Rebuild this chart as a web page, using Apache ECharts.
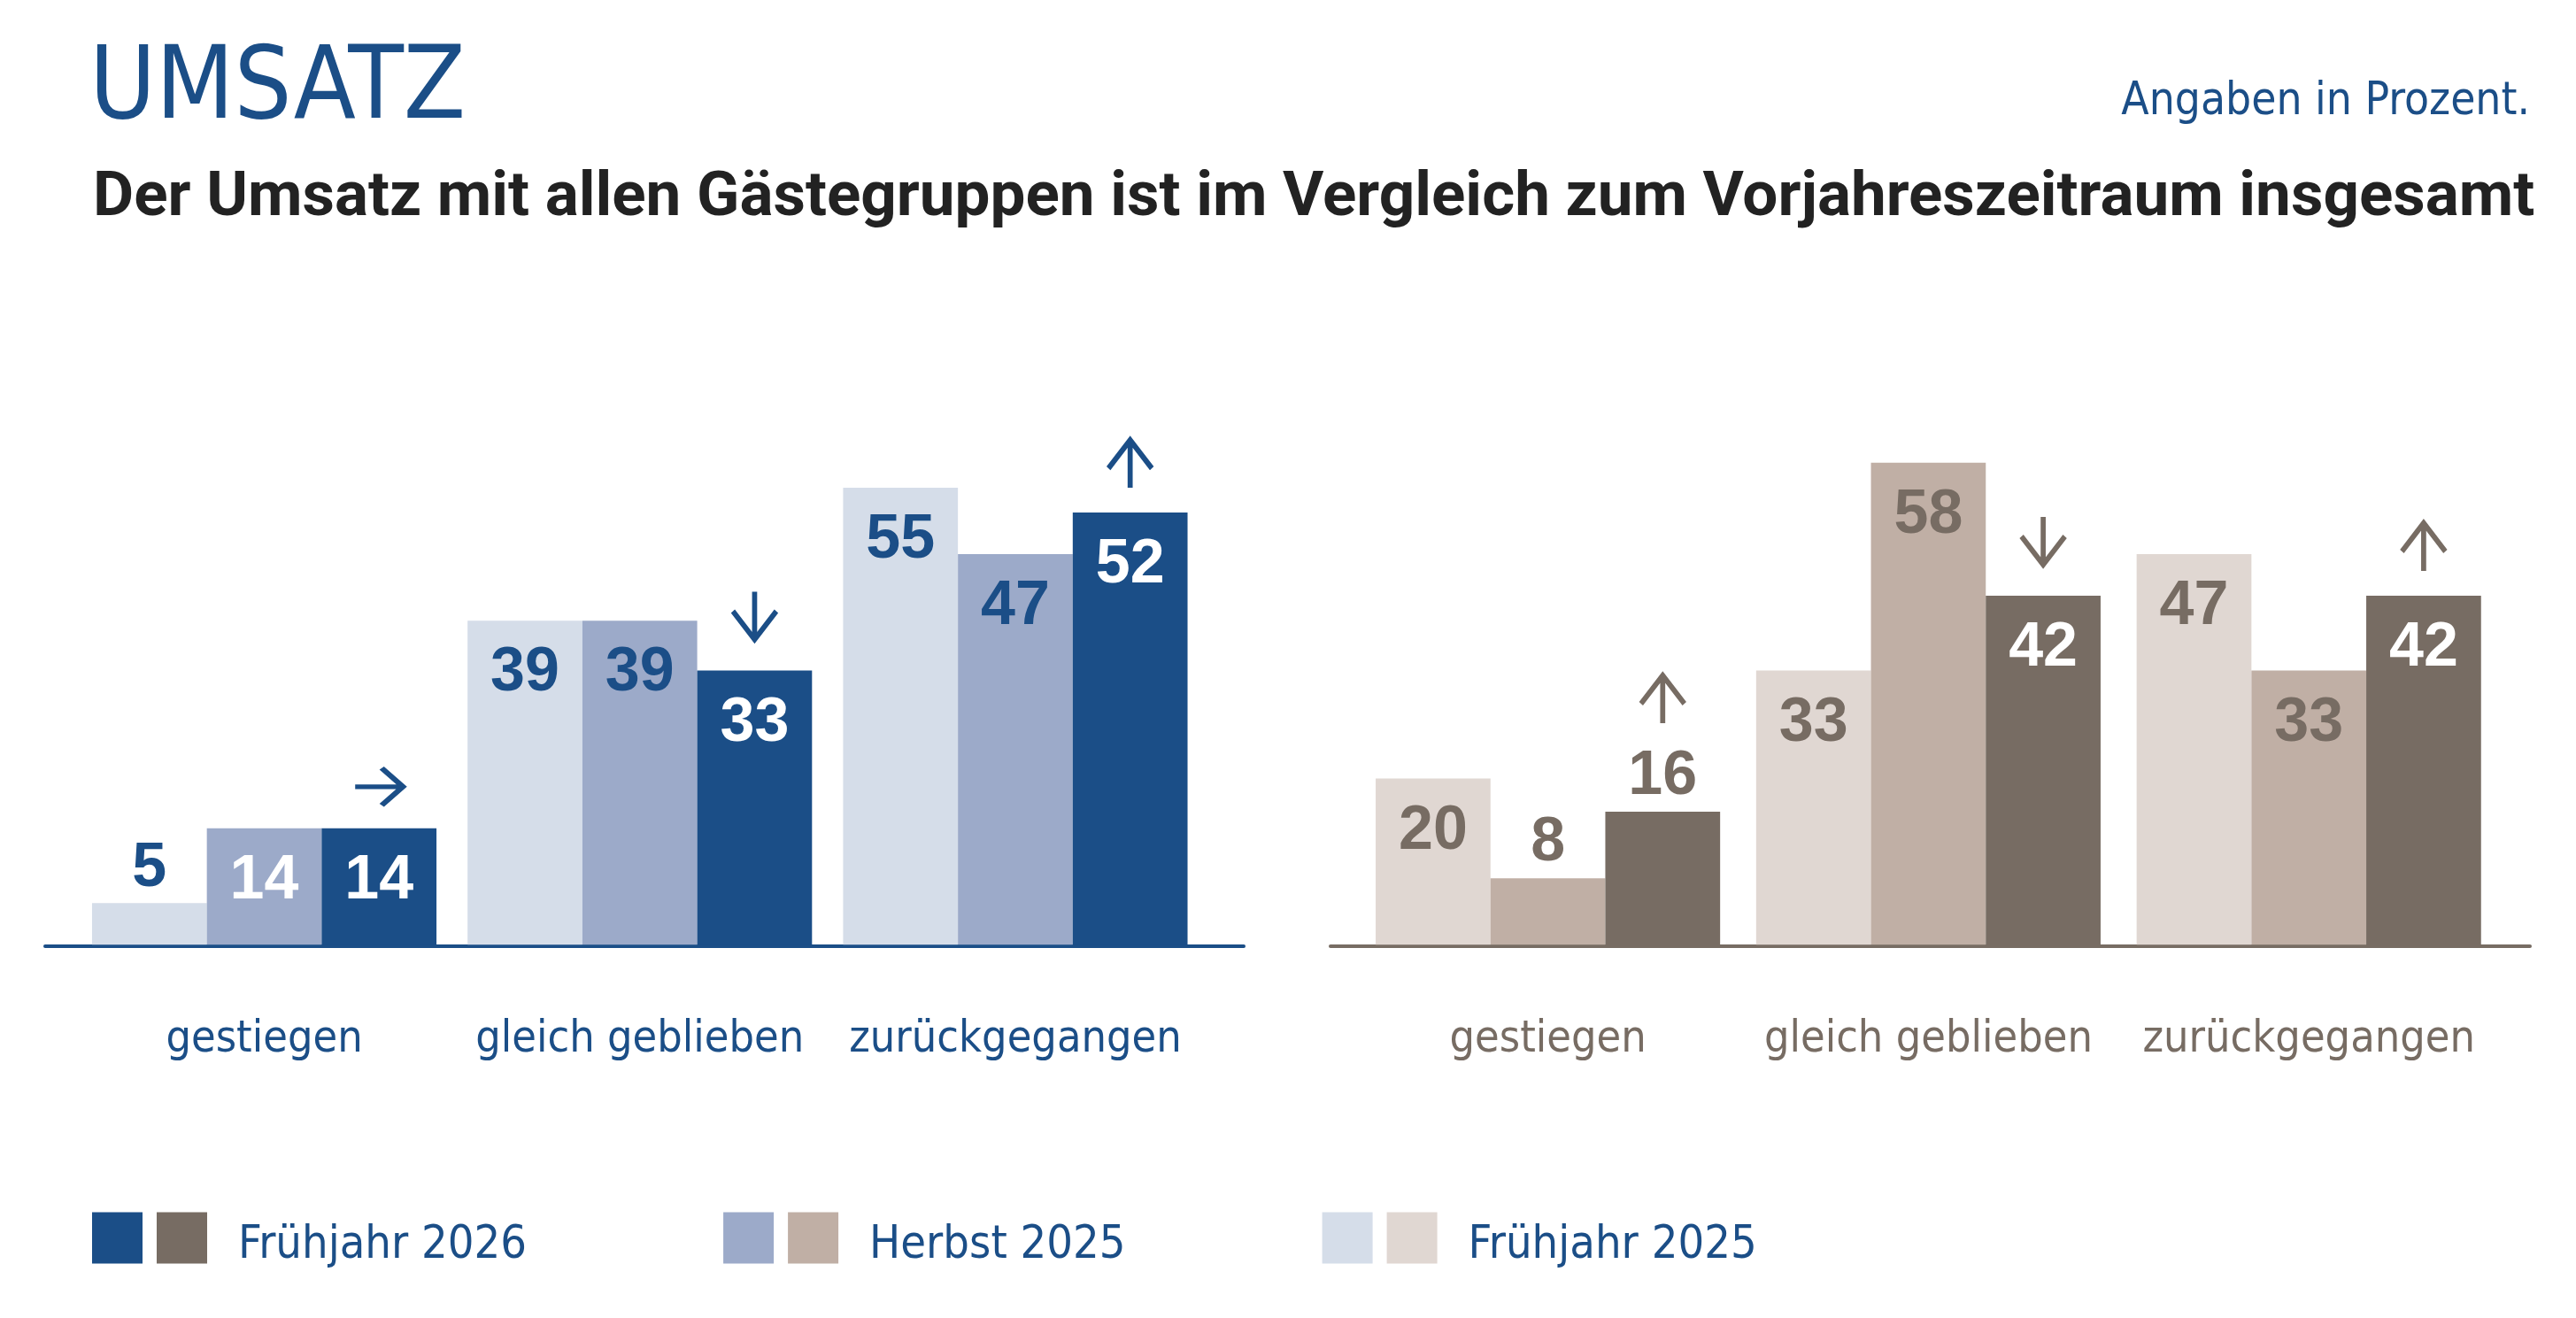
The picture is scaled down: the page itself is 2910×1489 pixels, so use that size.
<!DOCTYPE html>
<html><head><meta charset="utf-8">
<script src="https://cdn.jsdelivr.net/npm/echarts@6/dist/echarts.min.js"></script>
<style>html,body{margin:0;padding:0;background:#fff}#c{width:2910px;height:1489px}</style>
</head><body><div id="c"></div>
<script>
// ---- data ----
const categories = ['gestiegen', 'gleich geblieben', 'zurückgegangen'];
const seriesNames = ['Frühjahr 2025', 'Herbst 2025', 'Frühjahr 2026'];
const legendOrder = ['Frühjahr 2026', 'Herbst 2025', 'Frühjahr 2025'];
const leftFruehjahr2025 = [5, 39, 55];
const leftHerbst2025 = [14, 39, 47];
const leftFruehjahr2026 = [14, 33, 52];
const rightFruehjahr2025 = [20, 33, 47];
const rightHerbst2025 = [8, 58, 33];
const rightFruehjahr2026 = [16, 42, 42];
const leftTrend = ['right', 'down', 'up'];
const rightTrend = ['up', 'down', 'up'];
// label placement annotations (per series, per category)
const leftLabelAbove = [[true, false, false], [false, false, false], [false, false, false]];
const rightLabelAbove = [[false, false, false], [true, false, false], [true, false, false]];
const leftLabelWhite = [[false, false, false], [true, false, false], [true, true, true]];
const rightLabelWhite = [[false, false, false], [false, false, false], [true, true, true]];
const titleText = 'UMSATZ';
const subtitleText = 'Der Umsatz mit allen Gästegruppen ist im Vergleich zum Vorjahreszeitraum insgesamt';
const noteText = 'Angaben in Prozent.';

// ---- style ----
const FONT = '"DejaVu Sans Condensed", "DejaVu Sans", sans-serif';
const FONT2 = 'Roboto, "DejaVu Sans Condensed", sans-serif';
const NUMFONT = '"Liberation Sans", Arial, sans-serif';
const BLUE = '#1b4e87';
const GRAY = '#776c63';
const bluePalette = ['#d5dde9', '#9caac9', '#1b4e87'];
const grayPalette = ['#e0d7d2', '#c0afa5', '#776c63'];
const ARROWS = {
  up: { path: 'path://M0,32 L24.5,0 L49,32 M24.5,0 L24.5,54', size: [49, 54], off: -55 },
  down: { path: 'path://M0,22 L24.5,54 L49,22 M24.5,0 L24.5,54', size: [49, 54], off: -62 },
  right: { path: 'path://M0,21 L54,21 M30,0 L54,21 L30,42', size: [54, 42], off: -47 }
};

function buildSeries(axisIndex, sets, palette, textColor, above, white, trend) {
  return sets.map((vals, s) => {
    const ser = {
      type: 'bar', name: seriesNames[s], xAxisIndex: axisIndex, yAxisIndex: axisIndex,
      barWidth: 129.7, barGap: '0%',
      itemStyle: { color: palette[s] },
      label: {
        show: true, align: 'center', verticalAlign: 'middle',
        fontFamily: NUMFONT, fontWeight: 'bold', fontSize: 70
      },
      data: vals.map((v, i) => ({
        value: v,
        label: {
          position: above[s][i] ? ['50%', -39] : ['50%', 60],
          color: (white[s][i] && !above[s][i]) ? '#ffffff' : textColor
        }
      }))
    };
    if (s === 2) {
      ser.markPoint = {
        label: { show: false },
        itemStyle: { color: 'transparent', borderColor: textColor, borderWidth: 6 },
        data: trend.map((t, i) => ({
          coord: [categories[i], vals[i]],
          symbol: ARROWS[t].path,
          symbolSize: ARROWS[t].size,
          symbolKeepAspect: false,
          symbolOffset: [0, above[s][i] ? -127 : ARROWS[t].off]
        }))
      };
    }
    return ser;
  });
}

const chart = echarts.init(document.getElementById('c'));
const catAxis = (gi, color) => ({
  type: 'category', gridIndex: gi, data: categories,
  axisLine: { show: false }, axisTick: { show: false },
  axisLabel: { interval: 0, fontFamily: FONT, fontSize: 50, color: color, margin: 83 }
});
const valAxis = (gi) => ({ type: 'value', gridIndex: gi, min: 0, max: 60, show: false });
const baseX = (gi, color) => ({
  type: 'value', gridIndex: gi, min: 0, max: 1,
  axisLine: { show: true, onZero: false, lineStyle: { color: color, width: 4 } },
  axisTick: { show: false }, axisLabel: { show: false }, splitLine: { show: false }
});
const legendText = (color) => ({
  fontFamily: FONT, fontSize: 52, color: color, padding: [0, 0, 0, 30],
  rich: {
    gap: { fontSize: 1, lineHeight: 18, color: color },
    t: { fontFamily: FONT, fontSize: 52, lineHeight: 60, color: color }
  }
});
const legendFmt = (name) => '{gap|\u200b}\n{t|' + name + '}';

chart.setOption({
  animation: false,
  backgroundColor: '#ffffff',
  title: [
    { text: titleText, left: 96, top: 41, textStyle: { fontFamily: FONT, fontSize: 114, fontWeight: 'normal', color: BLUE } },
    { text: subtitleText, left: 100, top: 185, textStyle: { fontFamily: FONT2, fontSize: 71, fontWeight: 'bold', color: '#222222' } },
    { text: noteText, right: 47, top: 85, textStyle: { fontFamily: FONT, fontSize: 51, fontWeight: 'normal', color: BLUE } }
  ],
  legend: [
    {
      data: legendOrder.map((n, k) => ({ name: n, itemStyle: { color: bluePalette[2 - k] } })),
      left: 104, top: 1368, padding: 0, itemWidth: 57, itemHeight: 58, itemGap: 295, icon: 'rect',
      selectedMode: false, formatter: legendFmt,
      textStyle: legendText('rgba(0,0,0,0)')
    },
    {
      data: legendOrder.map((n, k) => ({ name: n, itemStyle: { color: grayPalette[2 - k] } })),
      left: 177, top: 1368, padding: 0, itemWidth: 57, itemHeight: 58, itemGap: 295, icon: 'rect',
      selectedMode: false, formatter: legendFmt,
      textStyle: legendText(BLUE)
    }
  ],
  grid: [
    { left: 86.4, width: 1272.7, top: 504, height: 563.3 },
    { left: 1533.7, width: 1289.4, top: 504, height: 563.3 },
    { left: 51, width: 1354, top: 1068, height: 1 },
    { left: 1503, width: 1355, top: 1068, height: 1 }
  ],
  xAxis: [catAxis(0, BLUE), catAxis(1, GRAY), baseX(2, BLUE), baseX(3, GRAY)],
  yAxis: [valAxis(0), valAxis(1), { type: 'value', gridIndex: 2, show: false }, { type: 'value', gridIndex: 3, show: false }],
  series: [
    ...buildSeries(0, [leftFruehjahr2025, leftHerbst2025, leftFruehjahr2026], bluePalette, BLUE, leftLabelAbove, leftLabelWhite, leftTrend),
    ...buildSeries(1, [rightFruehjahr2025, rightHerbst2025, rightFruehjahr2026], grayPalette, GRAY, rightLabelAbove, rightLabelWhite, rightTrend)
  ]
});
</script></body></html>
